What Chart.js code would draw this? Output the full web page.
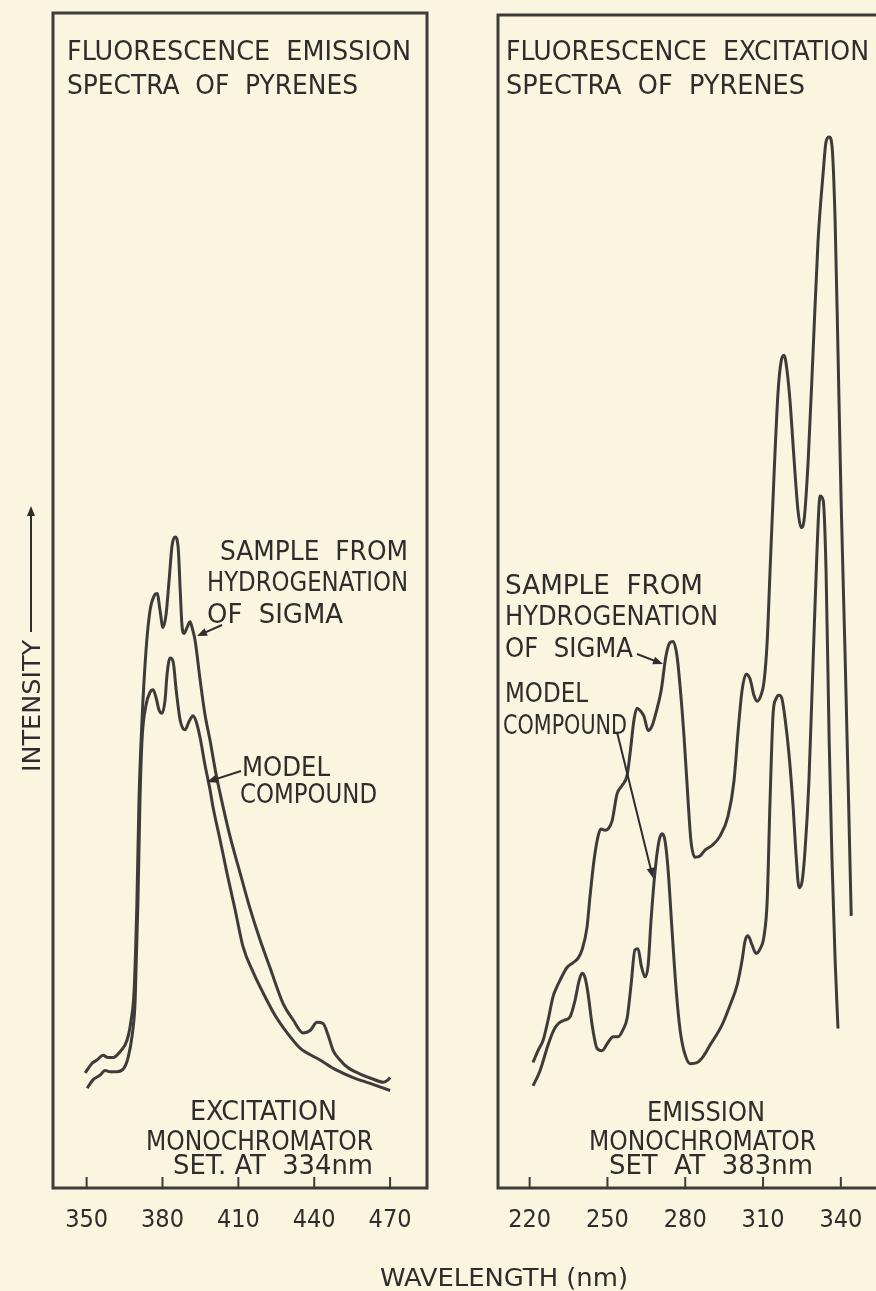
<!DOCTYPE html>
<html>
<head>
<meta charset="utf-8">
<script src="https://cdn.jsdelivr.net/npm/chart.js@4.4.1/dist/chart.umd.min.js"></script>
<style>
  html, body { margin: 0; padding: 0; background: #faf5df; overflow: hidden; }
  #wrap { position: relative; width: 876px; height: 1291px; overflow: hidden; }
  canvas { position: absolute; left: 0; top: 0; }
</style>
</head>
<body>
<div id="wrap">
  <canvas id="emission" width="876" height="1291"></canvas>
  <canvas id="excitation" width="900" height="1291"></canvas>
</div>
<script>
// Fluorescence spectra of pyrenes, intensity in arbitrary units (0-100)

// emission spectra, excitation monochromator at 334 nm
const emTicks = [350, 380, 410, 440, 470];
const emRange = [336.7, 484.6];
const emSampleNm = [349.4, 352.1, 354.1, 356.5, 358.5, 360.4, 363.2, 366.0, 367.6, 368.8, 369.9, 370.7, 371.9, 373.5, 375.1, 376.7, 377.9, 379.0, 380.2, 381.4, 382.6, 383.8, 385.0, 386.2, 387.0, 387.7, 388.5, 389.7, 390.9, 391.7, 392.9, 394.9, 396.8, 398.8, 401.2, 404.0, 407.1, 410.7, 414.6, 418.6, 422.6, 427.7, 431.7, 435.6, 438.4, 441.1, 443.5, 445.5, 447.5, 450.2, 453.0, 458.2, 462.9, 467.3, 469.2, 470.0];
const emSampleI = [9.8, 10.6, 10.9, 11.3, 11.1, 11.1, 11.6, 12.6, 14.3, 16.9, 24.5, 33.0, 39.8, 45.8, 49.2, 50.4, 50.6, 49.2, 47.7, 48.8, 51.7, 54.7, 55.4, 54.5, 50.9, 47.9, 47.2, 47.7, 48.2, 47.7, 46.6, 43.2, 40.3, 38.1, 35.2, 32.4, 29.6, 26.8, 23.8, 21.1, 18.7, 15.7, 14.3, 13.2, 13.4, 14.1, 14.0, 13.0, 11.7, 10.9, 10.3, 9.7, 9.3, 9.0, 9.2, 9.4];
const emModelNm = [350.2, 352.5, 355.3, 357.3, 359.3, 362.0, 364.4, 366.4, 368.0, 369.2, 370.3, 371.1, 371.9, 373.5, 375.1, 376.3, 377.5, 378.6, 379.8, 381.0, 381.8, 383.0, 384.2, 385.4, 387.0, 388.9, 390.5, 392.1, 393.3, 394.9, 396.8, 398.8, 400.0, 402.8, 405.5, 408.7, 411.9, 415.8, 419.8, 424.5, 429.3, 434.4, 442.3, 448.3, 455.4, 462.1, 470.0];
const emModelI = [8.5, 9.2, 9.6, 10.0, 9.9, 9.9, 10.1, 11.1, 13.0, 16.0, 24.5, 33.0, 38.1, 41.1, 42.2, 42.4, 41.7, 40.7, 40.4, 41.5, 43.7, 45.1, 44.8, 42.4, 39.8, 39.0, 39.7, 40.2, 39.7, 38.3, 36.0, 33.9, 32.4, 29.6, 26.8, 23.7, 20.5, 18.4, 16.6, 14.7, 13.2, 11.9, 10.9, 10.1, 9.4, 8.9, 8.3];

// excitation spectra, emission monochromator at 383 nm
const exTicks = [220, 250, 280, 310, 340];
const exRange = [207.8, 355.1];
const exSampleNm = [221.3, 223.2, 225.2, 227.1, 229.0, 230.2, 231.7, 234.4, 236.7, 238.7, 240.2, 242.1, 243.3, 244.8, 246.4, 247.5, 249.1, 250.2, 251.8, 253.7, 255.6, 257.6, 258.7, 260.3, 261.4, 262.6, 264.1, 265.7, 267.2, 268.7, 270.7, 272.6, 274.1, 275.3, 276.8, 278.0, 279.5, 281.1, 282.2, 283.8, 285.7, 287.6, 290.3, 293.4, 296.5, 298.8, 300.4, 301.9, 303.5, 305.0, 306.5, 307.7, 309.2, 310.4, 311.6, 312.7, 314.3, 315.8, 317.0, 318.1, 319.3, 320.4, 322.0, 323.5, 324.7, 325.8, 327.4, 329.3, 331.2, 333.2, 334.3, 335.5, 336.6, 337.8, 338.9, 340.1, 341.6, 342.8, 344.0];
const exSampleI = [10.7, 11.7, 12.6, 14.3, 16.3, 17.0, 17.7, 18.8, 19.2, 19.6, 20.3, 22.2, 24.9, 27.9, 30.0, 30.6, 30.5, 30.6, 31.3, 33.6, 34.3, 35.2, 37.0, 40.0, 40.9, 40.7, 40.2, 39.0, 39.4, 40.5, 42.4, 45.4, 46.5, 46.6, 45.4, 42.8, 38.6, 33.0, 29.6, 28.2, 28.3, 28.8, 29.2, 30.0, 31.7, 34.7, 39.0, 42.4, 43.8, 43.4, 42.0, 41.5, 42.0, 43.2, 46.6, 52.6, 61.1, 67.9, 70.5, 71.0, 69.6, 67.1, 62.0, 57.7, 56.3, 56.9, 62.0, 71.3, 80.7, 86.6, 89.2, 89.6, 88.8, 82.4, 71.3, 58.6, 45.8, 34.7, 23.2];
const exModelNm = [221.3, 224.0, 227.1, 229.4, 231.0, 233.3, 235.6, 237.5, 239.1, 240.2, 241.4, 242.5, 244.1, 246.0, 247.9, 250.2, 252.2, 254.1, 256.0, 257.6, 259.1, 260.6, 261.8, 263.0, 264.5, 265.7, 266.8, 268.4, 269.9, 271.1, 272.2, 273.4, 274.9, 276.5, 278.0, 279.5, 281.9, 284.6, 286.9, 289.6, 291.9, 294.2, 297.3, 300.0, 301.9, 303.1, 304.2, 305.8, 307.3, 308.9, 310.4, 311.6, 312.7, 313.9, 315.0, 316.2, 317.3, 318.5, 320.0, 321.6, 322.7, 323.9, 325.1, 326.2, 327.7, 329.3, 330.8, 332.0, 333.2, 334.3, 335.5, 336.6, 337.8, 338.9];
const exModelI = [8.7, 10.0, 12.2, 13.5, 14.0, 14.3, 14.6, 16.0, 17.7, 18.3, 17.9, 16.6, 13.9, 11.9, 11.7, 12.4, 12.9, 12.9, 13.5, 14.5, 17.3, 20.3, 20.4, 19.0, 18.0, 19.0, 22.8, 27.1, 29.6, 30.2, 29.6, 27.1, 22.0, 16.9, 13.5, 11.7, 10.6, 10.7, 11.2, 12.2, 13.0, 13.9, 15.6, 17.3, 19.4, 21.1, 21.5, 20.7, 20.0, 20.4, 21.5, 24.5, 33.0, 40.5, 41.7, 42.0, 41.7, 40.0, 37.0, 32.5, 28.5, 25.6, 26.2, 28.8, 34.7, 44.9, 54.3, 59.0, 58.6, 52.6, 38.1, 27.9, 19.4, 13.6];

const INK = '#2e2c2c';
const LINE = '#3e3b3b';
const FONT = "'DejaVu Sans Condensed', 'Liberation Sans Narrow', 'DejaVu Sans', sans-serif";

const zip = (xs, ys) => xs.map((x, i) => ({ x, y: ys[i] }));

// text squeezed/stretched to the width it has in the drawing
function fitText(ctx, str, x, y, width, capH, vertical) {
  const size = capH / 0.73;
  ctx.save();
  ctx.font = `${size}px ${FONT}`;
  const w = ctx.measureText(str).width;
  ctx.fillStyle = INK;
  ctx.textBaseline = 'alphabetic';
  ctx.textAlign = 'left';
  if (vertical) {
    // x = baseline, y = start of text, reads upward
    ctx.translate(x, y);
    ctx.rotate(-Math.PI / 2);
  } else {
    ctx.translate(x, y + capH);
  }
  ctx.scale(width / w, 1);
  ctx.fillText(str, 0, 0);
  ctx.restore();
}

function arrow(ctx, x1, y1, x2, y2) {
  const a = Math.atan2(y2 - y1, x2 - x1);
  ctx.save();
  ctx.strokeStyle = INK;
  ctx.fillStyle = INK;
  ctx.lineWidth = 2;
  ctx.beginPath();
  ctx.moveTo(x1, y1);
  ctx.lineTo(x2 - 6 * Math.cos(a), y2 - 6 * Math.sin(a));
  ctx.stroke();
  ctx.beginPath();
  ctx.moveTo(x2, y2);
  ctx.lineTo(x2 - 10 * Math.cos(a) + 4 * Math.sin(a), y2 - 10 * Math.sin(a) - 4 * Math.cos(a));
  ctx.lineTo(x2 - 10 * Math.cos(a) - 4 * Math.sin(a), y2 - 10 * Math.sin(a) + 4 * Math.cos(a));
  ctx.closePath();
  ctx.fill();
  ctx.restore();
}

// panel box plus small inward tick marks on the wavelength axis
const framePlugin = {
  id: 'frame',
  beforeDatasetsDraw(chart) {
    const { ctx, chartArea: a } = chart;
    const xs = chart.scales.x;
    ctx.save();
    ctx.strokeStyle = LINE;
    ctx.lineWidth = 3;
    ctx.strokeRect(a.left, a.top, a.right - a.left, a.bottom - a.top);
    ctx.lineWidth = 2;
    xs.ticks.forEach(t => {
      const px = xs.getPixelForValue(t.value);
      ctx.beginPath();
      ctx.moveTo(px, a.bottom);
      ctx.lineTo(px, a.bottom - 11);
      ctx.stroke();
    });
    ctx.restore();
  }
};

const emNotes = {
  id: 'emNotes',
  afterDraw(chart) {
    const ctx = chart.ctx;
    fitText(ctx, 'FLUORESCENCE  EMISSION', 67, 41, 344, 19);
    fitText(ctx, 'SPECTRA  OF  PYRENES', 67, 75, 291, 19);
    fitText(ctx, 'SAMPLE  FROM', 220, 541, 188, 19);
    fitText(ctx, 'HYDROGENATION', 207, 572, 201, 19);
    fitText(ctx, 'OF  SIGMA', 207, 604, 136, 19);
    arrow(ctx, 222, 625, 197, 636);
    fitText(ctx, 'MODEL', 242, 757, 88, 19);
    fitText(ctx, 'COMPOUND', 240, 784, 137, 19);
    arrow(ctx, 241, 771, 207, 782);
    fitText(ctx, 'EXCITATION', 190, 1101, 147, 19);
    fitText(ctx, 'MONOCHROMATOR', 146, 1131, 227, 19);
    fitText(ctx, 'SET. AT  334nm', 173, 1155, 200, 19);
    // shared axis titles
    fitText(ctx, 'WAVELENGTH (nm)', 380, 1268, 248, 18);
    fitText(ctx, 'INTENSITY', 40, 772, 132, 18, true);
    arrow(ctx, 31, 632, 31, 506);
  }
};

const exNotes = {
  id: 'exNotes',
  afterDraw(chart) {
    const ctx = chart.ctx;
    fitText(ctx, 'FLUORESCENCE  EXCITATION', 506, 41, 363, 19);
    fitText(ctx, 'SPECTRA  OF  PYRENES', 506, 75, 299, 19);
    fitText(ctx, 'SAMPLE  FROM', 505, 575, 198, 19);
    fitText(ctx, 'HYDROGENATION', 505, 606, 213, 19);
    fitText(ctx, 'OF  SIGMA', 505, 638, 128, 19);
    arrow(ctx, 637, 654, 663, 664);
    fitText(ctx, 'MODEL', 505, 683, 83, 19);
    fitText(ctx, 'COMPOUND', 503, 715, 124, 19);
    arrow(ctx, 617, 732, 653, 878);
    fitText(ctx, 'EMISSION', 647, 1102, 118, 19);
    fitText(ctx, 'MONOCHROMATOR', 589, 1131, 227, 19);
    fitText(ctx, 'SET  AT  383nm', 609, 1155, 204, 19);
  }
};

const lineStyle = {
  borderColor: LINE,
  borderWidth: 3,
  pointRadius: 0,
  fill: false,
  cubicInterpolationMode: 'monotone'
};

function makeSpectrum(canvasId, range, ticks, sample, model, padding, notes) {
  return new Chart(document.getElementById(canvasId), {
    type: 'line',
    data: {
      datasets: [
        { label: 'Sample from hydrogenation of Sigma', data: sample, ...lineStyle },
        { label: 'Model compound', data: model, ...lineStyle }
      ]
    },
    options: {
      responsive: false,
      animation: false,
      events: [],
      layout: { padding },
      plugins: { legend: { display: false }, tooltip: { enabled: false } },
      scales: {
        x: {
          type: 'linear',
          min: range[0],
          max: range[1],
          afterBuildTicks: axis => { axis.ticks = ticks.map(v => ({ value: v })); },
          afterFit: axis => { axis.height = 1291 - 1188; },
          grid: { display: false, drawTicks: false },
          border: { display: false },
          ticks: {
            autoSkip: false,
            maxRotation: 0,
            padding: 17,
            color: INK,
            font: { family: FONT, size: 25 }
          }
        },
        y: { display: false, min: 0, max: 100 }
      }
    },
    plugins: [framePlugin, notes]
  });
}

makeSpectrum('emission', emRange, emTicks,
  zip(emSampleNm, emSampleI), zip(emModelNm, emModelI),
  { left: 53, right: 876 - 427, top: 13, bottom: 0 }, emNotes);

makeSpectrum('excitation', exRange, exTicks,
  zip(exSampleNm, exSampleI), zip(exModelNm, exModelI),
  { left: 498, right: 900 - 880, top: 15, bottom: 0 }, exNotes);
</script>
</body>
</html>
